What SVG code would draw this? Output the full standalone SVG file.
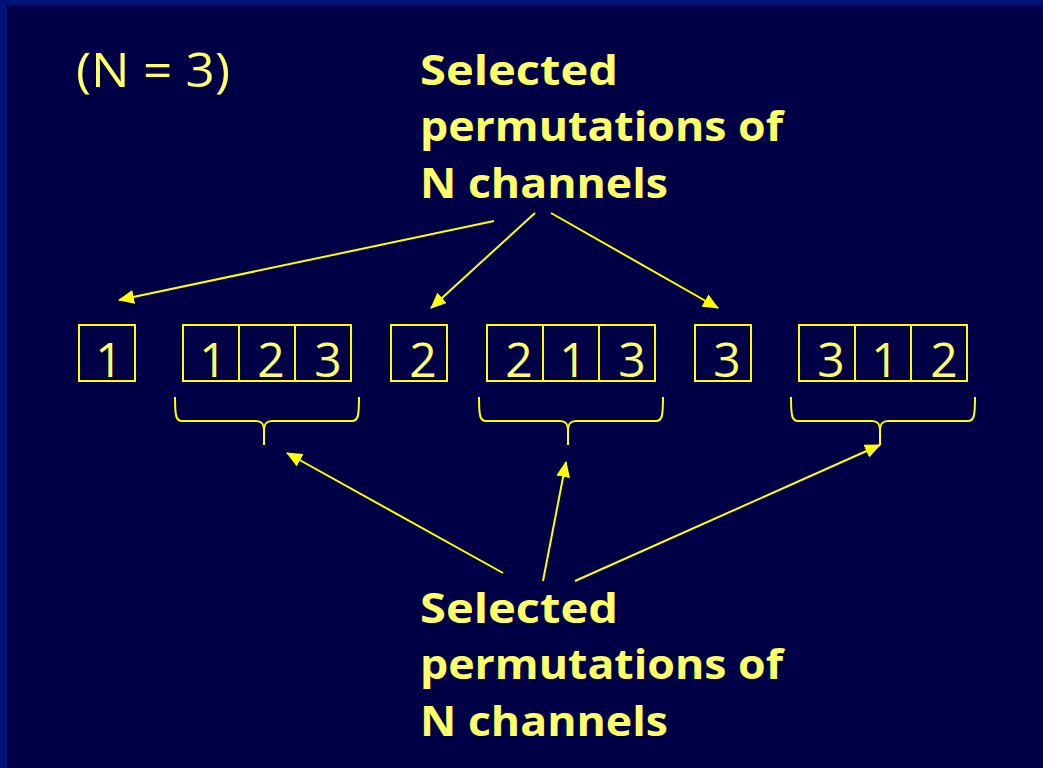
<svg xmlns="http://www.w3.org/2000/svg" width="1043" height="768" viewBox="0 0 1043 768">
  <defs>
    <marker id="head" viewBox="0 0 16 14" refX="15" refY="7" markerWidth="16" markerHeight="14" markerUnits="userSpaceOnUse" orient="auto">
      <path d="M0,0 L16,7 L0,14 Z" fill="#FFFF00"/>
    </marker>
    <style>
      .cell { fill: none; stroke: #FFFF00; stroke-width: 2; }
      .digit { font-family: "Open Sans", "Liberation Sans", sans-serif; font-size: 48px; fill: #FFFF66; text-anchor: middle; }
      .label { font-family: "Open Sans", "Liberation Sans", sans-serif; font-weight: bold; font-size: 42px; fill: #FFFF66; }
      .title { font-family: "Open Sans", "Liberation Sans", sans-serif; font-size: 48px; fill: #FFFF66; }
      .brace { fill: none; stroke: #FFFF00; stroke-width: 2; }
      .arrow { fill: none; stroke: #FFFF00; stroke-width: 2; marker-end: url(#head); }
    </style>
  </defs>

  <!-- slide background with frame edge -->
  <rect x="0" y="0" width="1043" height="768" fill="#00137A"/>
  <rect x="7" y="5" width="1036" height="763" fill="#000046"/>

  <g id="title">
    <text class="title" x="76" y="87" textLength="154" lengthAdjust="spacingAndGlyphs">(N = 3)</text>
  </g>

  <g id="label-top">
    <text class="label" x="420" y="85" textLength="198" lengthAdjust="spacingAndGlyphs">Selected</text>
    <text class="label" x="420" y="141" textLength="363" lengthAdjust="spacingAndGlyphs">permutations of</text>
    <text class="label" x="420" y="198" textLength="248" lengthAdjust="spacingAndGlyphs">N channels</text>
  </g>

  <g id="label-bottom">
    <text class="label" x="420" y="623" textLength="198" lengthAdjust="spacingAndGlyphs">Selected</text>
    <text class="label" x="420" y="679" textLength="363" lengthAdjust="spacingAndGlyphs">permutations of</text>
    <text class="label" x="420" y="736" textLength="248" lengthAdjust="spacingAndGlyphs">N channels</text>
  </g>

  <!-- single channel boxes -->
  <g id="single-1">
    <rect class="cell" x="79" y="325" width="56" height="56"/>
    <text class="digit" x="109" y="377">1</text>
  </g>
  <g id="single-2">
    <rect class="cell" x="391" y="325" width="56" height="56"/>
    <text class="digit" x="423" y="377">2</text>
  </g>
  <g id="single-3">
    <rect class="cell" x="695" y="325" width="56" height="56"/>
    <text class="digit" x="727" y="377">3</text>
  </g>

  <!-- permutation rows -->
  <g id="perm-123">
    <rect class="cell" x="183" y="325" width="56" height="56"/>
    <rect class="cell" x="239" y="325" width="56" height="56"/>
    <rect class="cell" x="295" y="325" width="56" height="56"/>
    <text class="digit" x="213" y="377">1</text>
    <text class="digit" x="271" y="377">2</text>
    <text class="digit" x="328" y="377">3</text>
    <path class="brace" d="M175,397 C175,416 176,421 182,421 L256,421 C262,421 264,424 264,431 L264,445 M264,431 C264,424 266,421 272,421 L352,421 C358,421 359,416 359,397"/>
  </g>
  <g id="perm-213">
    <rect class="cell" x="487" y="325" width="56" height="56"/>
    <rect class="cell" x="543" y="325" width="56" height="56"/>
    <rect class="cell" x="599" y="325" width="56" height="56"/>
    <text class="digit" x="519" y="377">2</text>
    <text class="digit" x="573" y="377">1</text>
    <text class="digit" x="632" y="377">3</text>
    <path class="brace" d="M479,397 C479,416 480,421 486,421 L560,421 C566,421 568,424 568,431 L568,445 M568,431 C568,424 570,421 576,421 L656,421 C662,421 663,416 663,397"/>
  </g>
  <g id="perm-312">
    <rect class="cell" x="799" y="325" width="56" height="56"/>
    <rect class="cell" x="855" y="325" width="56" height="56"/>
    <rect class="cell" x="911" y="325" width="56" height="56"/>
    <text class="digit" x="831" y="377">3</text>
    <text class="digit" x="885" y="377">1</text>
    <text class="digit" x="944" y="377">2</text>
    <path class="brace" d="M791,397 C791,416 792,421 798,421 L872,421 C878,421 880,424 880,431 L880,445 M880,431 C880,424 882,421 888,421 L968,421 C974,421 975,416 975,397"/>
  </g>

  <g id="connectors">
    <line class="arrow" x1="494" y1="221" x2="119" y2="300"/>
    <line class="arrow" x1="535" y1="213" x2="431" y2="308"/>
    <line class="arrow" x1="551" y1="213" x2="718" y2="308"/>
    <line class="arrow" x1="503" y1="573" x2="287" y2="453"/>
    <line class="arrow" x1="543" y1="581" x2="566" y2="462"/>
    <line class="arrow" x1="575" y1="581" x2="880" y2="445"/>
  </g>
</svg>
